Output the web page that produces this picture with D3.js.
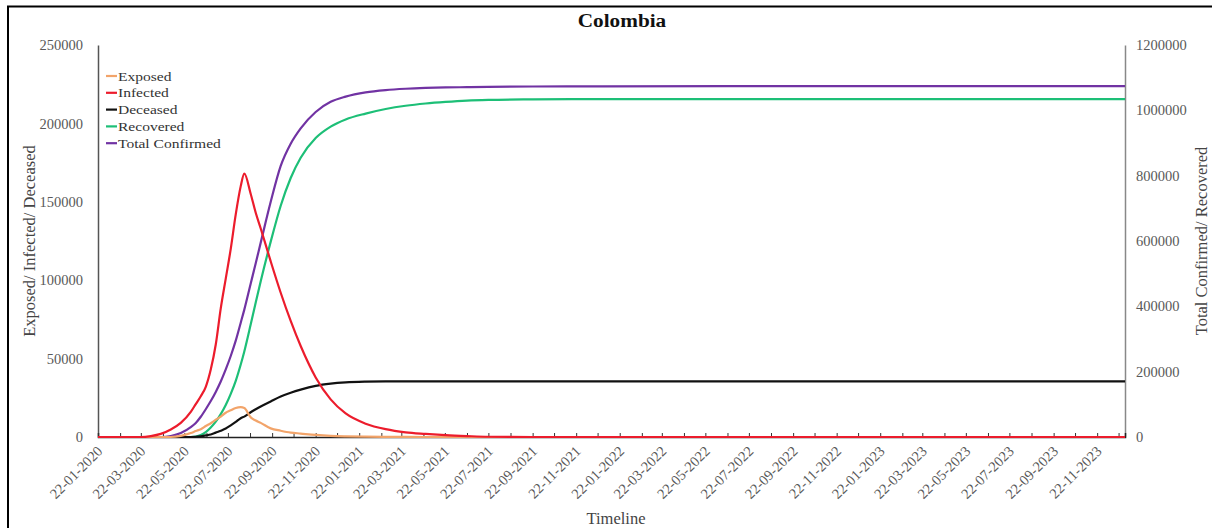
<!DOCTYPE html>
<html>
<head>
<meta charset="utf-8">
<script src="https://cdn.jsdelivr.net/npm/d3@7"></script>
<style>
  html, body { margin: 0; padding: 0; background: #fff; }
  svg { display: block; font-family: "Liberation Serif", "Times New Roman", serif; }
</style>
</head>
<body>
<svg id="chart" width="1212" height="528"></svg>
<script>
// ---------- data ----------
const dates = ["2020-01-22","2020-03-01","2020-03-22","2020-04-05","2020-04-19","2020-05-03","2020-05-17","2020-05-31",
  "2020-06-07","2020-06-14","2020-06-21","2020-06-28","2020-07-05","2020-07-12","2020-07-19","2020-07-26","2020-08-02",
  "2020-08-09","2020-08-14","2020-08-23","2020-08-30","2020-09-06","2020-09-20","2020-10-04","2020-10-18","2020-11-01",
  "2020-11-22","2020-12-13","2021-01-03","2021-01-31","2021-02-28","2021-03-28","2021-04-25","2021-05-23","2021-06-22",
  "2021-07-22","2021-09-22","2021-12-22","2022-06-22","2023-01-22","2023-07-22","2023-12-31"];

const exposed = [0,0,0,0,0,0,700,2500,3800,5000,7000,8800,11000,13000,15500,17000,18500,19000,18500,12500,10500,9000,
  5500,4000,2800,2200,1300,700,400,200,100,50,0,0,0,0,0,0,0,0,0,0];
const infected = [0,0,0,600,2000,4800,9000,16000,21000,26000,32000,43000,59000,82000,101000,120000,142000,160000,168000,
  155000,143000,133000,112000,92000,74000,58000,38000,24000,15000,8500,5000,3000,2000,1200,600,150,0,0,0,0,0,0];
const deceased = [0,0,0,0,0,0,0,0,100,500,1000,1600,2800,4000,5400,7400,9600,12000,13000,15800,17700,19500,22700,25800,
  28200,30200,32600,34000,34800,35300,35500,35500,35500,35500,35500,35500,35500,35500,35500,35500,35500,35500];
const recovered = [0,0,0,0,0,0,0,0,1500,6000,15000,29000,47000,70000,98000,132000,172000,222000,262000,345000,412000,
  477000,598000,708000,793000,855000,915000,950000,972000,990000,1004000,1014000,1021000,1026000,1030000,1032000,
  1033500,1034300,1034600,1034600,1034600,1034600];
const totalConfirmed = [0,0,0,0,0,3000,12000,30000,43000,62000,85000,110000,138000,170000,207000,248000,295000,350000,
  390000,470000,532000,595000,720000,830000,898000,945000,995000,1026000,1042000,1055000,1062000,1066000,1068500,
  1070000,1071000,1072000,1073000,1073500,1074000,1074000,1074000,1074000];

const leftTicks = [0, 50000, 100000, 150000, 200000, 250000];
const rightTicks = [0, 200000, 400000, 600000, 800000, 1000000, 1200000];
const xDomain = ["2020-01-22", "2023-12-31"];

const seriesNames = ["Exposed", "Infected", "Deceased", "Recovered", "Total Confirmed"];
const seriesColors = ["#f2a46a", "#ec1c2c", "#111111", "#1dbf77", "#7133a3"];

// ---------- layout ----------
const svg = d3.select("#chart");
const parse = d3.timeParse("%Y-%m-%d");
const fmt = d3.timeFormat("%d-%m-%Y");
const L = 98, R = 1125, T = 45, B = 437;

function stretch(sel, f) {
  sel.each(function () {
    const w = this.getComputedTextLength();
    d3.select(this).attr("textLength", w * f).attr("lengthAdjust", "spacingAndGlyphs");
  });
}

const x = d3.scaleTime().domain(xDomain.map(parse)).range([L, R]);
const yL = d3.scaleLinear().domain([0, 250000]).range([B, T]);
const yR = d3.scaleLinear().domain([0, 1200000]).range([B, T]);

// outer border (right and bottom edges fall outside the picture)
svg.append("rect").attr("x", 8).attr("y", 6.5).attr("width", 1215).attr("height", 540)
  .attr("fill", "none").attr("stroke", "#000").attr("stroke-width", 2);

// title
const title = svg.append("text").attr("x", 622).attr("y", 27).attr("text-anchor", "middle")
  .attr("font-size", 18).attr("font-weight", "bold").attr("fill", "#111").text("Colombia");
stretch(title, 1.18);

// left axis
const gL = svg.append("g").attr("transform", `translate(${L},0)`)
  .call(d3.axisLeft(yL).tickValues(leftTicks).tickSize(0).tickPadding(15).tickFormat(d3.format("d")));
gL.select(".domain").attr("stroke", "#555").attr("stroke-width", 1.5);
gL.selectAll("text").attr("font-size", 14.5).attr("fill", "#595959").attr("font-family", "Liberation Serif");

// right axis
const gR = svg.append("g").attr("transform", `translate(${R},0)`)
  .call(d3.axisRight(yR).tickValues(rightTicks).tickSize(0).tickPadding(11).tickFormat(d3.format("d")));
gR.select(".domain").attr("stroke", "#888").attr("stroke-width", 1.5);
gR.selectAll("text").attr("font-size", 14.5).attr("fill", "#595959").attr("font-family", "Liberation Serif");

// bottom axis: monthly inside ticks on the 22nd, labels every 2 months
const monthTicks = d3.timeMonth.range(parse("2020-01-01"), parse("2024-01-01")).map(d => new Date(d.getFullYear(), d.getMonth(), 22))
  .filter(d => d >= x.domain()[0] && d <= x.domain()[1]);
const labelTicks = monthTicks.filter(d => d.getMonth() % 2 === 0);

const gB = svg.append("g").attr("transform", `translate(0,${B})`);
gB.call(d3.axisBottom(x).tickValues(monthTicks).tickSize(-4).tickFormat(""));
gB.select(".domain").attr("stroke", "#222").attr("stroke-width", 1.5);
gB.selectAll(".tick line").attr("stroke", "#333");

const gBL = svg.append("g").attr("transform", `translate(0,${B})`)
  .call(d3.axisBottom(x).tickValues(labelTicks).tickSize(0).tickFormat(fmt));
gBL.select(".domain").remove();
gBL.selectAll("text")
  .attr("font-size", 14.5).attr("fill", "#595959").attr("font-family", "Liberation Serif")
  .attr("text-anchor", "end").attr("dy", null).attr("y", 0)
  .attr("transform", "translate(5,15) rotate(-45)");

// axis titles
svg.append("text").attr("transform", `translate(35,${(T + B) / 2}) rotate(-90)`)
  .attr("text-anchor", "middle").attr("font-size", 16.5).attr("fill", "#444").text("Exposed/ Infected/ Deceased");
svg.append("text").attr("transform", `translate(1207,${(T + B) / 2}) rotate(-90)`)
  .attr("text-anchor", "middle").attr("font-size", 16.5).attr("fill", "#444").text("Total Confirmed/ Recovered");
svg.append("text").attr("x", 616).attr("y", 524).attr("text-anchor", "middle")
  .attr("font-size", 16.5).attr("fill", "#444").text("Timeline");

// lines
const parsedDates = dates.map(parse);
const seriesData = [
  { name: seriesNames[0], vals: exposed, scale: yL },
  { name: seriesNames[1], vals: infected, scale: yL },
  { name: seriesNames[2], vals: deceased, scale: yL },
  { name: seriesNames[3], vals: recovered, scale: yR },
  { name: seriesNames[4], vals: totalConfirmed, scale: yR }
];
const drawOrder = [3, 4, 2, 0, 1];
drawOrder.forEach(i => {
  const s = seriesData[i];
  const line = d3.line().curve(d3.curveMonotoneX)
    .x((d, k) => x(parsedDates[k])).y(d => s.scale(d));
  svg.append("path").datum(s.vals).attr("d", line)
    .attr("fill", "none").attr("stroke", seriesColors[i]).attr("stroke-width", 2.2)
    .attr("stroke-linejoin", "round");
});

// legend
const lg = svg.append("g");
seriesNames.forEach((n, i) => {
  const yy = 76 + i * 16.8;
  lg.append("line").attr("x1", 106).attr("x2", 117).attr("y1", yy).attr("y2", yy)
    .attr("stroke", seriesColors[i]).attr("stroke-width", 2.2);
  const t = lg.append("text").attr("x", 118).attr("y", yy + 4.5).attr("font-size", 13.5).attr("fill", "#333").text(n);
  stretch(t, 1.15);
});
</script>
</body>
</html>
